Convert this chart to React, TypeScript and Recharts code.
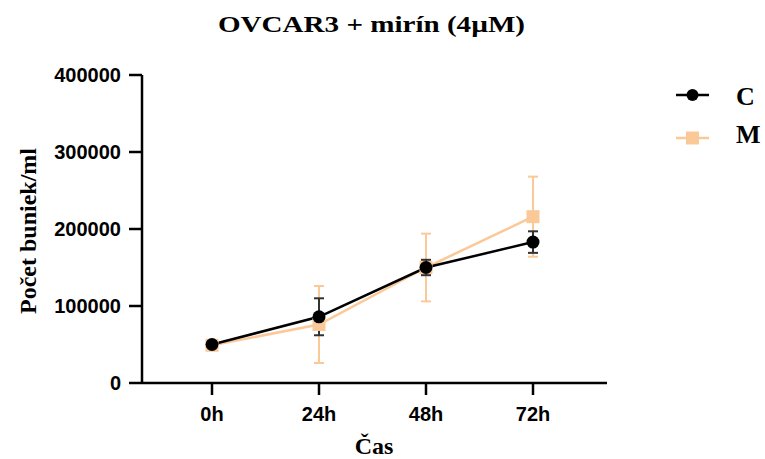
import React from 'react';
import { LineChart, Line, XAxis, YAxis, ErrorBar, Label } from 'recharts';

const times = ['0h', '24h', '48h', '72h'];
const cMean = [50000, 86000, 150000, 183000];
const cErr = [4000, 24000, 10000, 14000];
const mMean = [49000, 76000, 150000, 216000];
const mErr = [3000, 50000, 44000, 52000];
const yTicks = [0, 100000, 200000, 300000, 400000];

const data = times.map((t, i) => ({
  time: t,
  C: cMean[i],
  cErr: cErr[i],
  M: mMean[i],
  mErr: mErr[i],
}));

const ORANGE = '#FBC998';
const SERIF = '"Liberation Serif", "Times New Roman", serif';
const SANS = '"Liberation Sans", Arial, sans-serif';
const TICK = { fill: '#000', fontFamily: SANS, fontWeight: 'bold', fontSize: 20 };

const Square = (props: any) => {
  const { cx, cy, index } = props;
  return <rect key={`m-${index}`} x={cx - 6.5} y={cy - 6.5} width={13} height={13} fill={ORANGE} />;
};

const LegendBox = () => (
  <svg width={110} height={90} style={{ position: 'absolute', left: 660, top: 70 }}>
    <line x1={16} y1={25} x2={49} y2={25} stroke="#000" strokeWidth={2.5} />
    <circle cx={32.5} cy={25} r={6} fill="#000" />
    <text x={76} y={35} fontFamily={SERIF} fontWeight="bold" fontSize={26}>C</text>
    <line x1={16} y1={68} x2={49} y2={68} stroke={ORANGE} strokeWidth={2.5} />
    <rect x={26} y={61.5} width={13} height={13} fill={ORANGE} />
    <text x={76} y={73} fontFamily={SERIF} fontWeight="bold" fontSize={26}>M</text>
  </svg>
);

export default function App() {
  return (
    <div style={{ position: 'absolute', left: 0, top: 0, width: 765, height: 459, background: '#fff' }}>
      <svg width={765} height={45} style={{ position: 'absolute', left: 0, top: 0 }}>
        <text x={218} y={32} textLength={307} lengthAdjust="spacingAndGlyphs" fontFamily={SERIF} fontWeight="bold" fontSize={23} fill="#000">
          OVCAR3 + mirín (4µM)
        </text>
      </svg>
      <LineChart width={765} height={459} data={data} margin={{ top: 75, right: 158, bottom: 0, left: 42 }}>
        <XAxis
          dataKey="time"
          padding={{ left: 70, right: 74 }}
          height={76}
          axisLine={{ stroke: '#000', strokeWidth: 2.5 }}
          tickLine={{ stroke: '#000', strokeWidth: 2.5 }}
          tickSize={12}
          tickMargin={12}
          tick={TICK}
        >
          <Label
            content={() => (
              <text x={374} y={454} textAnchor="middle" fontFamily={SERIF} fontWeight="bold" fontSize={24} fill="#000">Čas</text>
            )}
          />
        </XAxis>
        <YAxis
          width={100}
          domain={[0, 400000]}
          ticks={yTicks}
          axisLine={{ stroke: '#000', strokeWidth: 2.5 }}
          tickLine={{ stroke: '#000', strokeWidth: 2.5 }}
          tickSize={13}
          tickMargin={8}
          tick={TICK}
        >
          <Label
            content={() => (
              <text x={36} y={231} transform="rotate(-90 36 231)" textAnchor="middle" fontFamily={SERIF} fontWeight="bold" fontSize={24} fill="#000">Počet buniek/ml</text>
            )}
          />
        </YAxis>
        <Line
          dataKey="M"
          stroke={ORANGE}
          strokeWidth={2.5}
          dot={Square}
          activeDot={false}
          isAnimationActive={false}
        >
          <ErrorBar dataKey="mErr" direction="y" width={5} stroke={ORANGE} strokeWidth={2} isAnimationActive={false} />
        </Line>
        <Line
          dataKey="C"
          stroke="#000"
          strokeWidth={2.5}
          dot={{ r: 6.5, fill: '#000', stroke: '#000', strokeWidth: 0 }}
          activeDot={false}
          isAnimationActive={false}
        >
          <ErrorBar dataKey="cErr" direction="y" width={5} stroke="#333" strokeWidth={2} isAnimationActive={false} />
        </Line>
      </LineChart>
      <LegendBox />
    </div>
  );
}
